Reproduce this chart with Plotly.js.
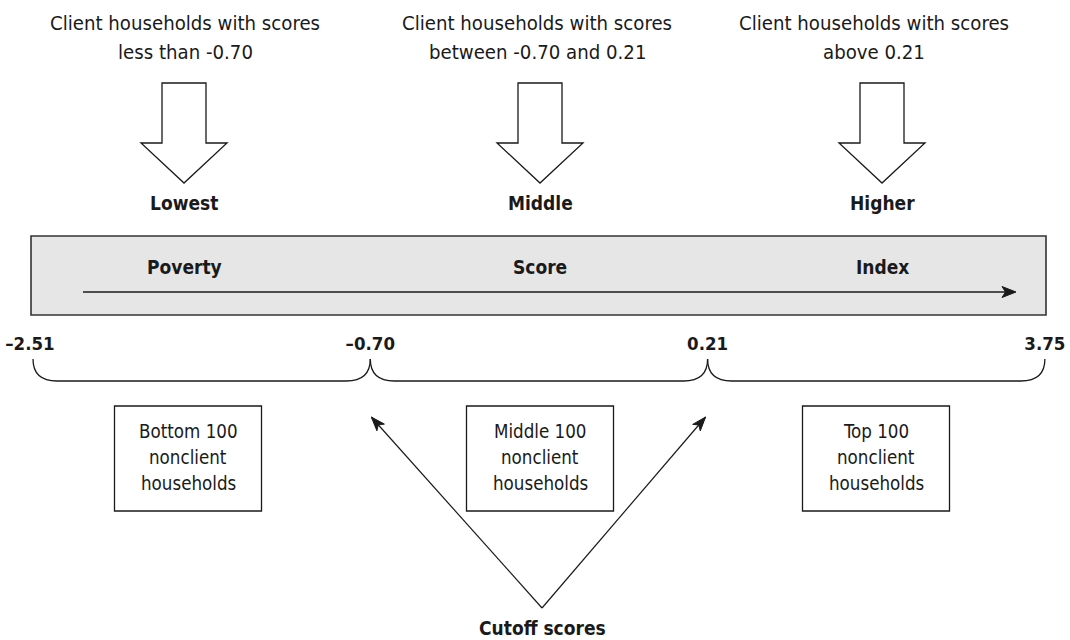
<!DOCTYPE html>
<html>
<head>
<meta charset="utf-8">
<script src="https://cdn.plot.ly/plotly-3.0.1.min.js"></script>
<style>html,body{margin:0;padding:0;background:#fff;}#chart{width:1070px;height:640px;}</style>
</head>
<body>
<div id="chart"></div>
<script>
// ---- data ----
const cutoffScores = [-2.51, -0.70, 0.21, 3.75];
const cutoffLabels = ['–2.51', '–0.70', '0.21', '3.75'];
const groupNames = ['Lowest', 'Middle', 'Higher'];
const scaleWords = ['Poverty', 'Score', 'Index'];
const clientLine1 = ['Client households with scores', 'Client households with scores', 'Client households with scores'];
const clientLine2 = ['less than -0.70', 'between -0.70 and 0.21', 'above 0.21'];
const nonclientLine1 = ['Bottom 100', 'Middle 100', 'Top 100'];
const nonclientLine2 = ['nonclient', 'nonclient', 'nonclient'];
const nonclientLine3 = ['households', 'households', 'households'];
const cutoffCaption = 'Cutoff scores';

// ---- layout helpers (pixel geometry) ----
const FONT = 'DejaVu Sans Condensed, Liberation Sans Narrow, Arial Narrow, sans-serif';
const X0 = 33, STEP = 337.3;            // cutoff i placed at X0 + i*STEP
const xPos = i => X0 + i * STEP;
const arrowCx = [184, 540, 882];         // block arrow centres
const textCx = [185, 537, 874];          // client text centres
const boxCx = [188, 540, 876];           // nonclient box centres
const INK = '#1a1a1a';
const SZ_TOP = 20.2, SZ_BOX = 18.6, SZ_BOLD = 19, SZ_NUM = 18.5;

const shapes = [];
const annotations = [];

function ann(x, y, text, size, bold) {
  annotations.push({x: x, y: y, xref: 'x', yref: 'y', text: text, showarrow: false,
    xanchor: 'center', yanchor: 'middle',
    font: {family: FONT, size: size, color: INK, weight: bold ? 'bold' : 'normal'}});
}
function pathShape(d, opts) {
  shapes.push(Object.assign({type: 'path', xref: 'x', yref: 'y', path: d,
    line: {color: INK, width: 1.2}}, opts || {}));
}
function arrowHead(x1, y1, x2, y2, len, hw) {
  const dx = x2 - x1, dy = y2 - y1, L = Math.hypot(dx, dy);
  const ux = dx / L, uy = dy / L, px = -uy, py = ux;
  const bx = x2 - ux * len, by = y2 - uy * len;
  const nx = x2 - ux * len * 0.75, ny = y2 - uy * len * 0.75;
  return `M ${x2},${y2} L ${bx + px * hw},${by + py * hw} L ${nx},${ny} L ${bx - px * hw},${by - py * hw} Z`;
}

// top client texts, block arrows, group names
groupNames.forEach((g, i) => {
  ann(textCx[i], 23, clientLine1[i], SZ_TOP, false);
  ann(textCx[i], 52, clientLine2[i], SZ_TOP, false);
  const c = arrowCx[i];
  pathShape(`M ${c - 22},83 L ${c + 22},83 L ${c + 22},143 L ${c + 43},143 L ${c},183 L ${c - 43},143 L ${c - 22},143 Z`,
    {fillcolor: '#ffffff', line: {color: INK, width: 1.3}});
  ann(c, 203, g, SZ_BOLD, true);
});

// gray scale bar
shapes.push({type: 'rect', xref: 'x', yref: 'y', x0: 31, x1: 1046, y0: 236, y1: 315,
  fillcolor: '#e6e6e6', line: {color: '#333333', width: 1.6}});
scaleWords.forEach((w, i) => ann(arrowCx[i], 267, w, SZ_BOLD, true));
shapes.push({type: 'line', xref: 'x', yref: 'y', x0: 83, x1: 1008, y0: 292, y1: 292,
  line: {color: INK, width: 1.5}});
pathShape(arrowHead(83, 292, 1016, 292, 14, 5.5), {fillcolor: INK, line: {color: INK, width: 1}});

// braces between cutoffs
const BT = 359, BB = 381, R = 24;
for (let i = 0; i < cutoffScores.length - 1; i++) {
  const a = xPos(i), b = xPos(i + 1);
  pathShape(`M ${a},${BT} Q ${a},${BB} ${a + R},${BB} L ${b - R},${BB} Q ${b},${BB} ${b},${BT}`,
    {line: {color: INK, width: 1.3}});
}

// nonclient boxes
boxCx.forEach((c, i) => {
  shapes.push({type: 'rect', xref: 'x', yref: 'y', x0: c - 73.5, x1: c + 73.5, y0: 406, y1: 511,
    fillcolor: 'rgba(0,0,0,0)', line: {color: INK, width: 1.3}});
  ann(c, 431, nonclientLine1[i], SZ_BOX, false);
  ann(c, 457, nonclientLine2[i], SZ_BOX, false);
  ann(c, 483, nonclientLine3[i], SZ_BOX, false);
});

// cutoff arrows
const apex = [542, 608];
[1, 2].forEach(i => {
  const tx = xPos(i) + (i === 1 ? 1 : -2), ty = 417;
  shapes.push({type: 'line', xref: 'x', yref: 'y', x0: apex[0], y0: apex[1], x1: tx, y1: ty,
    line: {color: INK, width: 1.2}});
  pathShape(arrowHead(apex[0], apex[1], tx, ty, 14, 5), {fillcolor: INK, line: {color: INK, width: 1}});
});
ann(apex[0], 628, cutoffCaption, SZ_BOLD, true);

// cutoff score labels as a text trace on the axis scale
const trace = {
  type: 'scatter', mode: 'text',
  x: cutoffScores.map((_, i) => xPos(i) - (i === 0 ? 3 : 0)),
  y: cutoffScores.map(() => 345),
  text: cutoffLabels,
  textposition: 'middle center',
  textfont: {family: FONT, size: SZ_NUM, color: INK, weight: 'bold'},
  hoverinfo: 'skip', showlegend: false, cliponaxis: false
};

const layout = {
  width: 1070, height: 640,
  margin: {l: 0, r: 0, t: 0, b: 0},
  paper_bgcolor: '#ffffff', plot_bgcolor: '#ffffff',
  xaxis: {range: [0, 1070], visible: false, fixedrange: true},
  yaxis: {range: [640, 0], visible: false, fixedrange: true},
  showlegend: false,
  shapes: shapes,
  annotations: annotations
};
Plotly.newPlot('chart', [trace], layout, {staticPlot: true, displayModeBar: false});
</script>
</body>
</html>
